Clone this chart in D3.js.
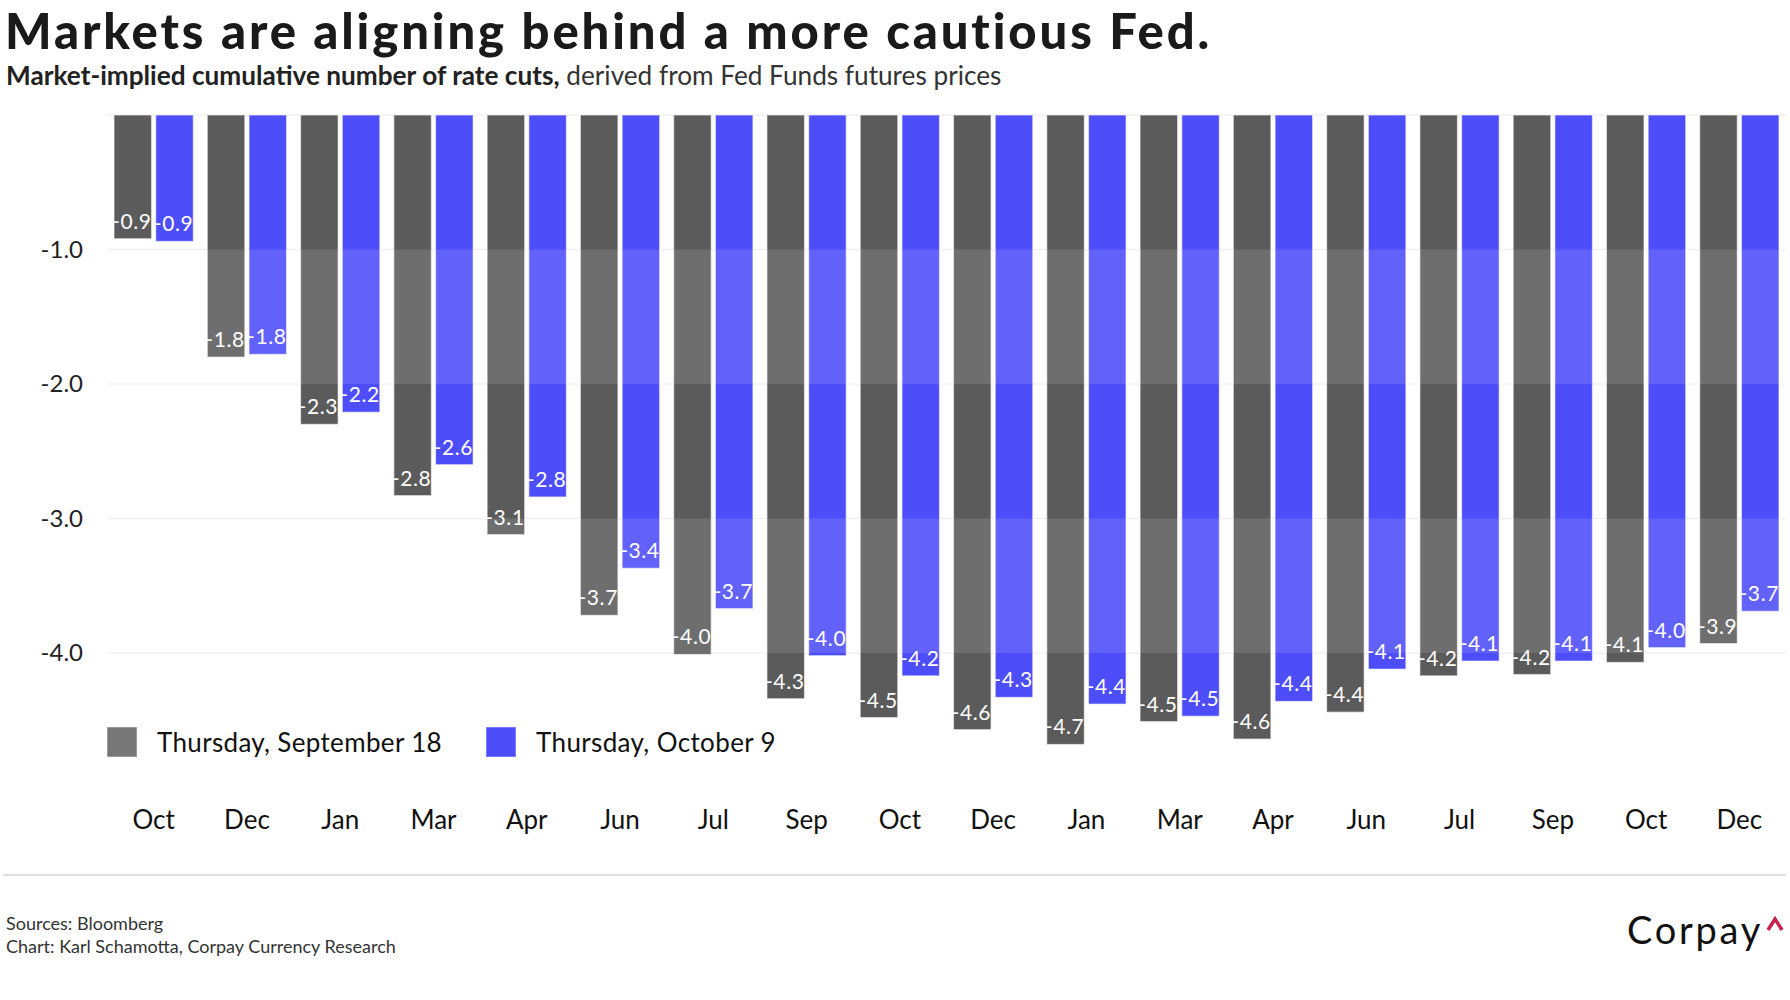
<!DOCTYPE html>
<html>
<head>
<meta charset="utf-8">
<script src="https://cdn.jsdelivr.net/npm/d3@7"></script>
<style>
  body { margin: 0; background: #fff; }
  svg { display: block; font-family: Lato, "Open Sans", sans-serif; }
</style>
</head>
<body>
<div id="chart"></div>
<script>
// Data
const months = ["Oct", "Dec", "Jan", "Mar", "Apr", "Jun", "Jul", "Sep", "Oct",
                "Dec", "Jan", "Mar", "Apr", "Jun", "Jul", "Sep", "Oct", "Dec"];
const sep18 = [-0.92, -1.80, -2.30, -2.83, -3.12, -3.72, -4.01, -4.34, -4.48,
               -4.57, -4.68, -4.51, -4.64, -4.44, -4.17, -4.16, -4.07, -3.93];
const oct9 = [-0.94, -1.78, -2.21, -2.60, -2.84, -3.37, -3.67, -4.02, -4.17,
              -4.33, -4.38, -4.47, -4.36, -4.12, -4.06, -4.06, -3.96, -3.69];
const seriesNames = ["Thursday, September 18", "Thursday, October 9"];
const yTicks = [-1, -2, -3, -4];
const bands = [[-1, -2], [-3, -4]];

const width = 1790, height = 1000;
const colors = ["#5b5b5b", "#4d4dfa"];
const legendColors = ["#777777", "#4d4dfa"];

const svg = d3.select("#chart").append("svg")
  .attr("width", width)
  .attr("height", height);

svg.append("rect").attr("width", width).attr("height", height).attr("fill", "#fff");

// Spread a text's letters so it spans the wanted width
function fitSpacing(sel, target) {
  const w = sel.node().getComputedTextLength();
  const n = sel.text().length;
  sel.style("letter-spacing", ((target - w) / n) + "px");
}

// Scale a text's size so it spans the wanted width
function fitSize(sel, target) {
  const w = sel.node().getComputedTextLength();
  const fs = parseFloat(sel.style("font-size"));
  sel.style("font-size", (fs * target / w) + "px");
}

// Title and subtitle
const title = svg.append("text")
  .attr("x", 5).attr("y", 48.5)
  .style("font-size", "49px").style("font-weight", 900)
  .attr("fill", "#1a1a1a")
  .text("Markets are aligning behind a more cautious Fed.");
fitSpacing(title, 1208);

const sub = svg.append("text")
  .attr("x", 6).attr("y", 85)
  .style("font-size", "25px")
  .attr("fill", "#222");
sub.append("tspan").style("font-weight", 700).text("Market-implied cumulative number of rate cuts,");
sub.append("tspan").attr("fill", "#333").text(" derived from Fed Funds futures prices");
fitSize(sub, 996);

// Scales
const idx = months.map((d, i) => i);
const x = d3.scaleBand()
  .domain(idx)
  .range([107, 1786])
  .paddingInner(0.15)
  .paddingOuter(0.075);

const xInner = d3.scaleBand()
  .domain([0, 1])
  .range([0, x.bandwidth()])
  .paddingInner(0.1);

const y = d3.scaleLinear()
  .domain([0, -4])
  .range([115, 653]);

// Gridlines
svg.append("g")
  .selectAll("line")
  .data([0].concat(yTicks))
  .join("line")
  .attr("x1", 107).attr("x2", 1786)
  .attr("y1", d => y(d)).attr("y2", d => y(d))
  .attr("stroke", "#f0f0f0")
  .attr("stroke-width", 1.5);

// Bars
const series = [sep18, oct9];
const groups = svg.append("g")
  .selectAll("g")
  .data(idx)
  .join("g")
  .attr("transform", i => `translate(${x(i)},0)`);

groups.selectAll("rect")
  .data(i => series.map((s, k) => ({ k: k, v: s[i] })))
  .join("rect")
  .attr("x", d => xInner(d.k))
  .attr("width", xInner.bandwidth())
  .attr("y", y(0))
  .attr("height", d => y(d.v) - y(0))
  .attr("fill", d => colors[d.k])
  .attr("stroke", "rgba(255,255,255,0.55)")
  .attr("stroke-width", 1.2);

// Lighter bands across the plot
svg.append("g")
  .selectAll("rect")
  .data(bands)
  .join("rect")
  .attr("x", 107)
  .attr("width", 1786 - 107)
  .attr("y", d => y(d[0]))
  .attr("height", d => y(d[1]) - y(d[0]))
  .attr("fill", "#fff")
  .attr("fill-opacity", 0.12);

// Value labels inside the bar ends
groups.selectAll("text")
  .data(i => series.map((s, k) => ({ k: k, v: s[i] })))
  .join("text")
  .attr("x", d => xInner(d.k) + xInner.bandwidth())
  .attr("y", d => y(d.v) - 10)
  .attr("text-anchor", "end")
  .attr("fill", "#fff")
  .style("font-size", "21px")
  .style("letter-spacing", "0.6px")
  .text(d => d.v.toFixed(1));

// Y axis
const yAxis = svg.append("g")
  .attr("transform", "translate(83,0)")
  .call(d3.axisLeft(y).tickValues(yTicks).tickFormat(d => d.toFixed(1)).tickSize(0).tickPadding(0));
yAxis.select(".domain").remove();
yAxis.selectAll("text")
  .style("font-size", "24px")
  .style("font-family", "Lato, sans-serif")
  .attr("fill", "#222");

// X axis (month labels)
const xAxis = svg.append("g")
  .attr("transform", "translate(0,829)")
  .call(d3.axisBottom(x).tickFormat(i => months[i]).tickSize(0).tickPadding(0));
xAxis.select(".domain").remove();
xAxis.selectAll("text")
  .attr("y", 0).attr("dy", 0)
  .style("font-size", "26px")
  .style("font-family", "Lato, sans-serif")
  .attr("fill", "#111");

// Legend
const legendX = [107, 486];
const legendW = [285, 240];
const legend = svg.append("g")
  .selectAll("g")
  .data(seriesNames)
  .join("g")
  .attr("transform", (d, i) => `translate(${legendX[i]},727)`);

legend.append("rect")
  .attr("width", 30).attr("height", 30)
  .attr("fill", (d, i) => legendColors[i])
  .attr("stroke", "rgba(255,255,255,0.5)");

legend.append("text")
  .attr("x", 50).attr("y", 25)
  .style("font-size", "26px")
  .attr("fill", "#111")
  .text(d => d)
  .each(function(d, i) { fitSpacing(d3.select(this), legendW[i]); });

// Footer
svg.append("line")
  .attr("x1", 3).attr("x2", 1786)
  .attr("y1", 875).attr("y2", 875)
  .attr("stroke", "#d4d4d4")
  .attr("stroke-width", 1.5);

svg.append("text")
  .attr("x", 6).attr("y", 930)
  .style("font-size", "18px").attr("fill", "#333")
  .text("Sources: Bloomberg");
svg.append("text")
  .attr("x", 6).attr("y", 953)
  .style("font-size", "18px").attr("fill", "#333")
  .text("Chart: Karl Schamotta, Corpay Currency Research");

// Corpay logo
const logo = svg.append("text")
  .attr("x", 1627).attr("y", 944)
  .style("font-size", "38px")
  .attr("fill", "#111")
  .text("Corpay");
fitSpacing(logo, 136);
svg.append("path")
  .attr("d", "M1768,930 L1775,919 L1782,930")
  .attr("fill", "none")
  .attr("stroke", "#c8224f")
  .attr("stroke-width", 3.5);
</script>
</body>
</html>
